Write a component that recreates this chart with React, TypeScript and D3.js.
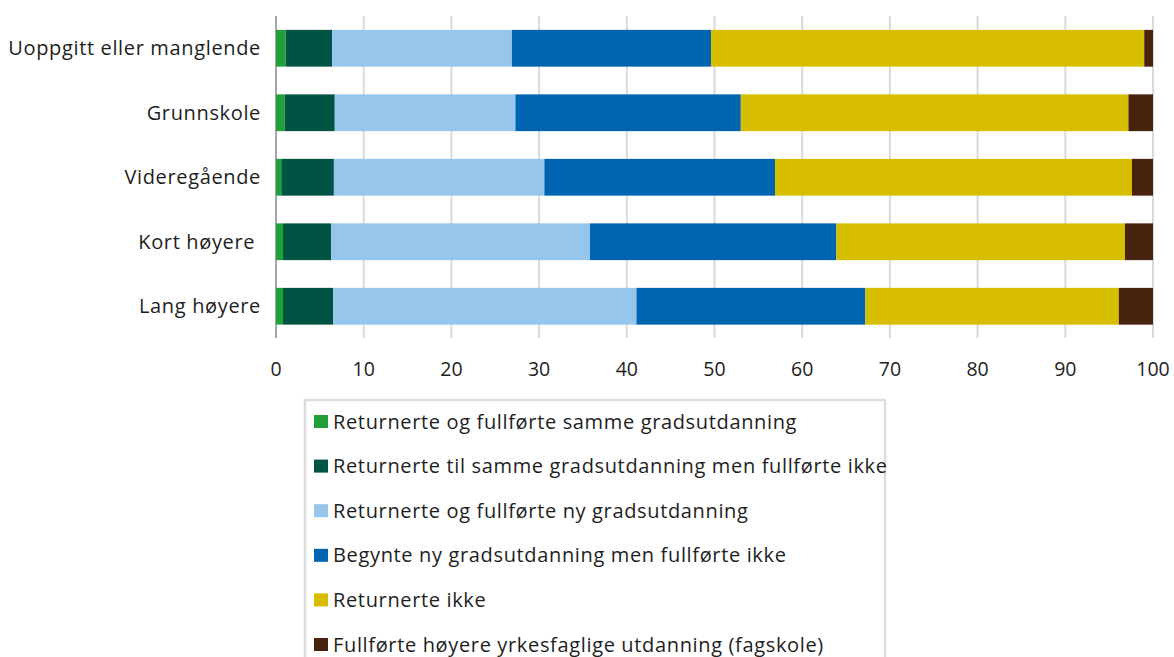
import * as d3 from "d3";

// categories (top to bottom)
const categories = [
  "Uoppgitt eller manglende",
  "Grunnskole",
  "Videregående",
  "Kort høyere ",
  "Lang høyere",
];

const seriesNames = [
  "Returnerte og fullførte samme gradsutdanning",
  "Returnerte til samme gradsutdanning men fullførte ikke",
  "Returnerte og fullførte ny gradsutdanning",
  "Begynte ny gradsutdanning men fullførte ikke",
  "Returnerte ikke",
  "Fullførte høyere yrkesfaglige utdanning (fagskole)",
];

const seriesColors = ["#21a03a", "#005443", "#96c6eb", "#0064b0", "#d7bf00", "#47230f"];

// values per series, in the order of categories
const sammeFullfort = [1.1, 1.0, 0.6, 0.8, 0.8];
const sammeIkkeFullfort = [5.3, 5.7, 6.0, 5.5, 5.7];
const nyFullfort = [20.5, 20.6, 24.0, 29.5, 34.6];
const nyIkkeFullfort = [22.7, 25.7, 26.3, 28.1, 26.1];
const returnerteIkke = [49.4, 44.2, 40.7, 32.9, 28.9];
const fagskole = [1.0, 2.8, 2.4, 3.2, 3.9];

const xTicks = [0, 10, 20, 30, 40, 50, 60, 70, 80, 90, 100];

const W = 1174;
const H = 657;
const FONT = "'Open Sans', sans-serif";

export default function App() {
  const seriesValues = [
    sammeFullfort,
    sammeIkkeFullfort,
    nyFullfort,
    nyIkkeFullfort,
    returnerteIkke,
    fagskole,
  ];
  const rows = categories.map((c, i) => {
    const r: Record<string, any> = { cat: c };
    seriesNames.forEach((s, j) => (r[s] = seriesValues[j][i]));
    return r;
  });
  const stacked = d3.stack<any>().keys(seriesNames)(rows);

  const x = d3.scaleLinear().domain([0, 100]).range([276, 1153]);
  const y = d3
    .scaleBand<string>()
    .domain(categories)
    .range([16, 338.5])
    .paddingInner(0.43)
    .paddingOuter(0.215);

  const legendTop = 400;
  const legendStep = 44.6;

  return (
    <svg
      width={W}
      height={H}
      style={{ position: "absolute", left: 0, top: 0, background: "#fff" }}
      fontFamily={FONT}
    >
      {/* grid */}
      {xTicks.slice(1).map((t) => (
        <line key={t} x1={x(t)} x2={x(t)} y1={16} y2={338} stroke="#dadada" strokeWidth={2} />
      ))}
      <line x1={x(0)} x2={x(0)} y1={16} y2={338} stroke="#a6a6a6" strokeWidth={2} />

      {/* bars */}
      {stacked.map((layer, j) => (
        <g key={layer.key} fill={seriesColors[j]}>
          {layer.map((d, i) => (
            <rect
              key={i}
              x={x(d[0])}
              y={y(categories[i])}
              width={x(d[1]) - x(d[0])}
              height={y.bandwidth()}
            />
          ))}
        </g>
      ))}

      {/* y labels */}
      {categories.map((c) => (
        <text
          key={c}
          x={261}
          y={(y(c) ?? 0) + y.bandwidth() / 2}
          dy="0.35em"
          textAnchor="end"
          fontSize={20}
          letterSpacing={0.65}
          fill="#1e1e1e"
          style={{ whiteSpace: "pre" }}
        >
          {c}
        </text>
      ))}

      {/* x tick labels */}
      {xTicks.map((t) => (
        <text key={t} x={x(t)} y={376} textAnchor="middle" fontSize={19.5} fill="#1e1e1e">
          {t}
        </text>
      ))}

      {/* legend */}
      <rect x={305} y={legendTop} width={580} height={290} fill="none" stroke="#dcdcdc" strokeWidth={2.5} />
      {seriesNames.map((s, j) => (
        <g key={s} transform={`translate(314, ${legendTop + 15 + j * legendStep})`}>
          <rect width={14} height={13} fill={seriesColors[j]} />
          <text x={19} y={6.5} dy="0.35em" fontSize={20} letterSpacing={0.65} fill="#1e1e1e">
            {s}
          </text>
        </g>
      ))}
    </svg>
  );
}
